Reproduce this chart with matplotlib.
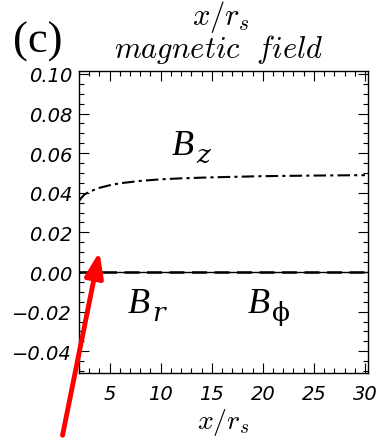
import numpy as np
import matplotlib
matplotlib.use("Agg")
import matplotlib.pyplot as plt
from matplotlib.ticker import MultipleLocator

plt.rcParams["mathtext.fontset"] = "cm"

# data
x_bz = [2.0, 2.5, 3.0, 4.0, 5.0, 6.0, 8.0, 10.0, 12.0, 15.0, 20.0, 25.0, 30.0]
bz = [0.0360, 0.0390, 0.0405, 0.0425, 0.0438, 0.0448, 0.0460, 0.0468, 0.0473, 0.0478, 0.0484, 0.0487, 0.0489]
x_br = [2.0, 30.3]
br = [0.0, 0.0]
bphi = [0.0, 0.0]

xticks = [5, 10, 15, 20, 25, 30]
yticks = [-0.04, -0.02, 0.00, 0.02, 0.04, 0.06, 0.08, 0.10]

fig = plt.figure(figsize=(3.84, 4.39), dpi=100)
ax = fig.add_axes([79/384, 1-374/439, 289/384, 302/439])

ax.plot(x_bz, bz, color="black", ls=(0, (6, 2, 1.5, 2)), lw=1.5)
ax.plot(x_br, br, color="black", ls="-", lw=1.0)
ax.plot(x_br, bphi, color="black", ls=(0, (6, 3)), lw=1.8)

ax.set_xlim(2.0, 30.3)
ax.set_ylim(-0.051, 0.1015)
ax.set_xticks(xticks)
ax.set_yticks(yticks)
ax.xaxis.set_minor_locator(MultipleLocator(1))
ax.yaxis.set_minor_locator(MultipleLocator(0.005))
ax.tick_params(which="both", direction="in", top=True, right=True, width=0.8)
ax.tick_params(which="major", length=7)
ax.tick_params(which="minor", length=3.5)
ax.set_yticklabels(["%.2f" % v if v >= 0 else "\u2212%.2f" % -v for v in yticks])
for lab in ax.get_xticklabels() + ax.get_yticklabels():
    lab.set_family("DejaVu Sans")
    lab.set_style("italic")
    lab.set_fontsize(14)
ax.tick_params(axis="x", pad=8)
ax.tick_params(axis="y", pad=5)
for s in ax.spines.values():
    s.set_linewidth(1.0)

ax.set_xlabel(r"$x/r_s$", fontsize=20, labelpad=2)

# curve labels: big italic B with near full-size subscript
def blabel(x, y, sub, sub_style="italic"):
    t = ax.text(x, y, "B", fontsize=26, family="Liberation Serif", style="italic",
                va="baseline")
    fig.canvas.draw()
    bb = t.get_window_extent().transformed(ax.transData.inverted())
    ax.text(bb.x1 + 0.2, y - 0.004, sub, fontsize=19, family="DejaVu Serif",
            style=sub_style, va="baseline")

blabel(11.1, 0.0596, "z")
blabel(6.8, -0.0202, "r")
blabel(18.5, -0.0202, "\u03d5", sub_style="normal")

fig.text(0.575, 0.962, r"$x/r_s$", fontsize=22, ha="center", va="center")
fig.text(0.57, 0.888, r"$magnetic\ \ field$", fontsize=22, ha="center", va="center")
fig.text(0.035, 0.905, "(c)", fontsize=32, family="Liberation Serif", va="center")

ax.annotate("", xy=(100/384, 1-250/439), xycoords="figure fraction",
            xytext=(62/384, 0.0), textcoords="figure fraction",
            arrowprops=dict(arrowstyle="-|>,head_width=0.55,head_length=1.5",
                            color="red", lw=3.5), annotation_clip=False)

fig.savefig("out.png", dpi=100)
